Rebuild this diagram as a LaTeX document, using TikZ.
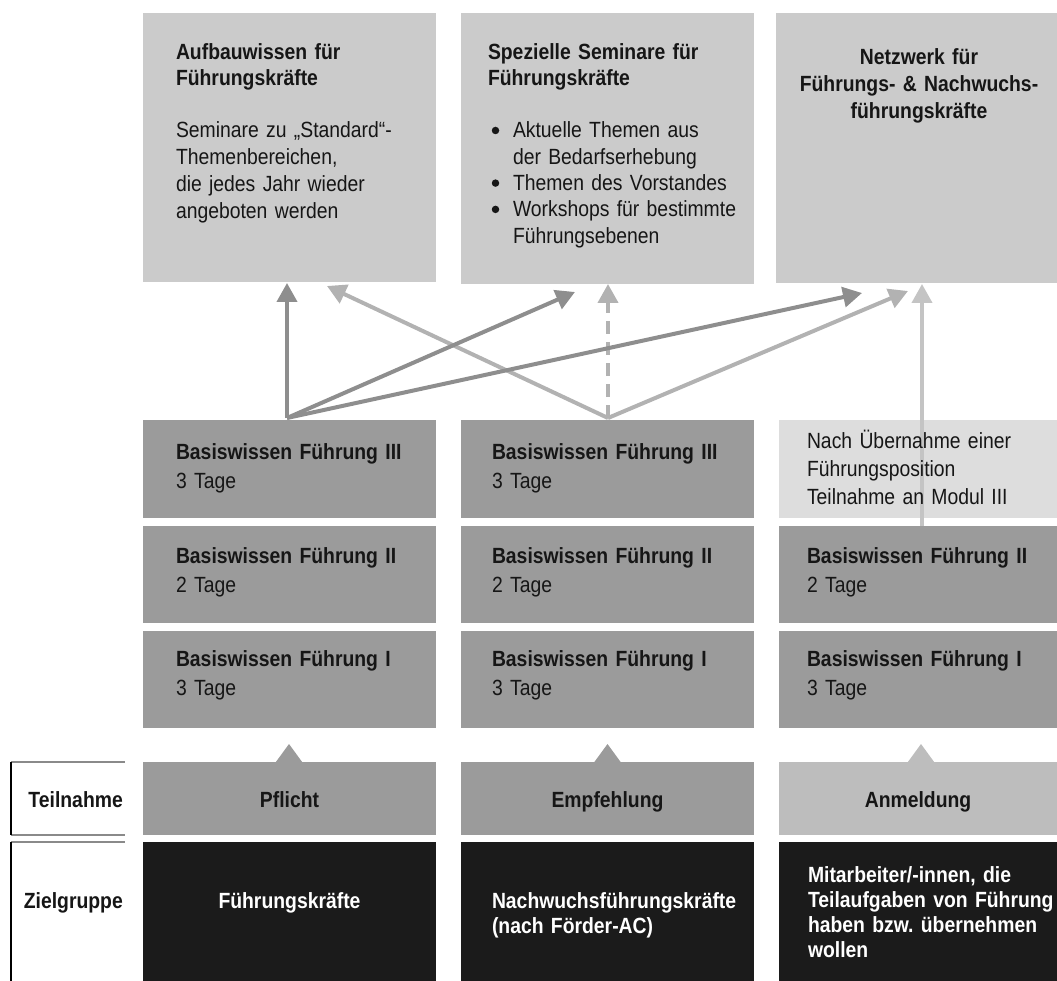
\documentclass[tikz,border=0pt]{standalone}
\usepackage{fontspec}
\usepackage{graphicx}
\setmainfont{Liberation Sans}[FakeStretch=0.88]
\usetikzlibrary{arrows.meta}
\frenchspacing
\definecolor{topbox}{HTML}{CBCBCB}
\definecolor{midbox}{HTML}{9B9B9B}
\definecolor{palebox}{HTML}{DDDDDD}
\definecolor{lightbox}{HTML}{BDBDBD}
\definecolor{darkbox}{HTML}{1B1B1B}
\definecolor{darkarrow}{HTML}{8E8E8E}
\definecolor{lightarrow}{HTML}{B2B2B2}
\definecolor{palearrow}{HTML}{C4C4C4}
\definecolor{ink}{HTML}{161616}
\definecolor{bracketgray}{HTML}{8A8A8A}
\tikzset{
  box/.style={draw=none, inner sep=0pt, outer sep=0pt, anchor=north west},
  txt/.style={inner sep=0pt, outer sep=0pt, anchor=base west, align=left,
     text width=#1, text=ink},
  ctxt/.style={inner sep=0pt, outer sep=0pt, anchor=base, align=center,
     text width=#1, text=ink},
  fs/.style={font=\fontsize{22}{#1}\selectfont},
  fb/.style={font=\fontsize{22}{#1}\selectfont\bfseries},
  bulletdot/.style={circle, fill=ink, inner sep=0pt, minimum size=7.5pt},
  arr/.style={line width=4pt, -{Triangle[length=19pt,width=20pt]}},
  bracket/.style={line width=1.5pt}
}
\begin{document}
\begin{tikzpicture}[x=1pt,y=-1pt]
\useasboundingbox (0,0) rectangle (1057,981);
% top boxes
\node[box, fill=topbox, minimum width=293, minimum height=269] (T1) at (143,13) {};
\node[box, fill=topbox, minimum width=293, minimum height=271] (T2) at (461,13) {};
\node[box, fill=topbox, minimum width=281, minimum height=270] (T3) at (776,13) {};
% middle rows
\node[box, fill=midbox, minimum width=293, minimum height=98] (A3) at (143,420) {};
\node[box, fill=midbox, minimum width=293, minimum height=97] (A2) at (143,526) {};
\node[box, fill=midbox, minimum width=293, minimum height=97] (A1) at (143,631) {};
\node[box, fill=midbox, minimum width=293, minimum height=98] (B3) at (461,420) {};
\node[box, fill=midbox, minimum width=293, minimum height=97] (B2) at (461,526) {};
\node[box, fill=midbox, minimum width=293, minimum height=97] (B1) at (461,631) {};
\node[box, fill=palebox, minimum width=278, minimum height=98] (C3) at (779,420) {};
\node[box, fill=midbox, minimum width=278, minimum height=97] (C2) at (779,526) {};
\node[box, fill=midbox, minimum width=278, minimum height=97] (C1) at (779,631) {};
% Teilnahme row
\node[box, fill=midbox, minimum width=293, minimum height=73] (P1) at (143,762) {};
\node[box, fill=midbox, minimum width=293, minimum height=73] (P2) at (461,762) {};
\node[box, fill=lightbox, minimum width=278, minimum height=73] (P3) at (779,762) {};
\fill[midbox] (275.5,762.5) -- (289,744) -- (302.5,762.5) -- cycle;
\fill[midbox] (594,762.5) -- (607.5,744) -- (621,762.5) -- cycle;
\fill[lightbox] (907.5,762.5) -- (921,744) -- (934.5,762.5) -- cycle;
% Zielgruppe row
\node[box, fill=darkbox, minimum width=293, minimum height=139] (Z1) at (143,842) {};
\node[box, fill=darkbox, minimum width=293, minimum height=139] (Z2) at (461,842) {};
\node[box, fill=darkbox, minimum width=278, minimum height=139] (Z3) at (779,842) {};
% brackets on the left
\draw[bracket, bracketgray] (11,762) -- (125,762);
\draw[bracket, bracketgray] (11,835) -- (125,835);
\draw[bracket, bracketgray] (11,842) -- (125,842);
\draw[bracket, black] (11,762) -- (11,835);
\draw[bracket, black] (11,842) -- (11,981);
% connector end points
\coordinate (o1) at (287,418);
\coordinate (o2) at (608,418);
\coordinate (o3) at (922,526);
\coordinate (e11) at (287,283);
\coordinate (e12) at (575,292);
\coordinate (e13) at (862,293);
\coordinate (e21) at (327,286);
\coordinate (e22) at (608,284);
\coordinate (e23) at (908,291);
\coordinate (e33) at (922,284);
% arrows
\draw[arr, lightarrow] (o2) -- (e21);
\draw[arr, lightarrow] (o2) -- (e23);
\draw[arr, lightarrow, dash pattern=on 13pt off 8pt] (o2) -- (e22);
\draw[arr, darkarrow] (o1) -- (e11);
\draw[arr, darkarrow] (o1) -- (e12);
\draw[arr, darkarrow] (o1) -- (e13);
\draw[arr, palearrow] (o3) -- (e33);
% top texts
\node[txt=260, fb=26] (t1h) at (176,60) {Aufbauwissen für\\Führungskräfte};
\node[txt=260, fs=26.7] (t1b) at (176,138) {Seminare zu „Standard“-\\Themenbereichen,\\die jedes Jahr wieder\\angeboten werden};
\node[txt=262, fb=26] (t2h) at (488,60) {Spezielle Seminare für\\Führungskräfte};
\node[txt=240, fs=26.3] (t2b) at (513,138) {Aktuelle Themen aus\\der Bedarfserhebung\\Themen des Vorstandes\\Workshops für bestimmte\\Führungsebenen};
\node[bulletdot] (u1) at (495.5,130.5) {};
\node[bulletdot] (u2) at (495.5,183.1) {};
\node[bulletdot] (u3) at (495.5,209.4) {};
\node[ctxt=275, fb=27] (t3h) at (919,65) {Netzwerk für\\Führungs- \& Nachwuchs-\\führungskräfte};
% middle texts
\node[txt=255, fb=29] (a3t) at (176,459) {Basiswissen Führung III\\\mdseries 3 Tage};
\node[txt=255, fb=29] (a2t) at (176,563) {Basiswissen Führung II\\\mdseries 2 Tage};
\node[txt=255, fb=29] (a1t) at (176,666) {Basiswissen Führung I\\\mdseries 3 Tage};
\node[txt=255, fb=29] (b3t) at (492,459) {Basiswissen Führung III\\\mdseries 3 Tage};
\node[txt=255, fb=29] (b2t) at (492,563) {Basiswissen Führung II\\\mdseries 2 Tage};
\node[txt=255, fb=29] (b1t) at (492,666) {Basiswissen Führung I\\\mdseries 3 Tage};
\node[txt=245, fs=28] (c3t) at (807,448) {Nach Übernahme einer\\Führungsposition\\Teilnahme an Modul III};
\node[txt=245, fb=29] (c2t) at (807,563) {Basiswissen Führung II\\\mdseries 2 Tage};
\node[txt=245, fb=29] (c1t) at (807,666) {Basiswissen Führung I\\\mdseries 3 Tage};
% bottom texts
\node[inner sep=0pt, anchor=base east, fb=26, text=ink] (lt) at (123,807) {Teilnahme};
\node[inner sep=0pt, anchor=base east, fb=26, text=ink] (lz) at (123,908) {Zielgruppe};
\node[ctxt=250, fb=26] (p1t) at (289.5,807) {Pflicht};
\node[ctxt=250, fb=26] (p2t) at (607.5,807) {Empfehlung};
\node[ctxt=250, fb=26] (p3t) at (918,807) {Anmeldung};
\node[ctxt=250, fb=26, text=white] (z1t) at (289.5,908) {Führungskräfte};
\node[txt=255, fb=25, text=white] (z2t) at (492,908) {Nachwuchsführungskräfte\\(nach Förder-AC)};
\node[txt=250, fb=25.3, text=white] (z3t) at (808,882) {Mitarbeiter/-innen, die\\Teilaufgaben von Führung\\haben bzw. übernehmen\\wollen};
\end{tikzpicture}
\end{document}
